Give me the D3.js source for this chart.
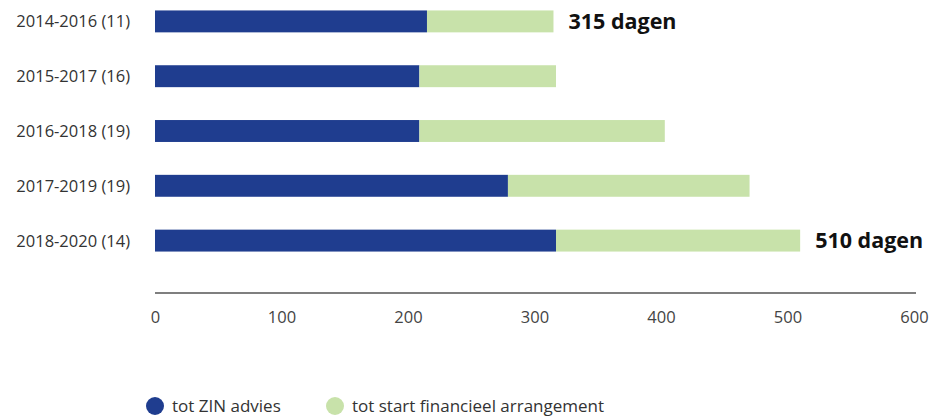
<!DOCTYPE html>
<html>
<head>
<meta charset="utf-8">
<script src="https://cdn.jsdelivr.net/npm/d3@7"></script>
<style>
  body { margin: 0; background: #fff; }
  text { font-family: "Open Sans", Lato, sans-serif; }
</style>
</head>
<body>
<svg id="chart" width="933" height="419"></svg>
<script>
// Periods (number of cases in brackets)
const categories = ["2014-2016 (11)", "2015-2017 (16)", "2016-2018 (19)", "2017-2019 (19)", "2018-2020 (14)"];
// Days until ZIN advice
const zinAdvies = [215, 209, 209, 279, 317];
// Additional days until start of financial arrangement
const startFinancieel = [100, 108, 194, 191, 193];
const seriesNames = ["tot ZIN advies", "tot start financieel arrangement"];
const xTicks = [0, 100, 200, 300, 400, 500, 600];
// Totals shown as annotation
const annotations = [{ cat: "2014-2016 (11)", text: "315 dagen" }, { cat: "2018-2020 (14)", text: "510 dagen" }];

const colors = ["#1f3d8f", "#c8e2aa"];

const svg = d3.select("#chart");

const x = d3.scaleLinear().domain([0, 600]).range([155, 914]);
const y = d3.scaleBand().domain(categories).range([-6, 268]).paddingInner(0.6).paddingOuter(0.3);

const rows = categories.map((c, i) => ({ cat: c, zin: zinAdvies[i], fin: startFinancieel[i] }));
const stack = d3.stack().keys(["zin", "fin"])(rows);

// Bars
svg.selectAll("g.layer")
  .data(stack)
  .enter().append("g")
  .attr("class", "layer")
  .attr("fill", (d, i) => colors[i])
  .selectAll("rect")
  .data(d => d)
  .enter().append("rect")
  .attr("x", d => x(d[0]))
  .attr("width", d => x(d[1]) - x(d[0]))
  .attr("y", d => y(d.data.cat))
  .attr("height", y.bandwidth());

// Category labels
svg.selectAll(".cat")
  .data(categories)
  .enter().append("text")
  .attr("class", "cat")
  .attr("x", 130)
  .attr("y", d => y(d) + y.bandwidth() / 2)
  .attr("dy", "0.36em")
  .attr("text-anchor", "end")
  .attr("font-size", 16.5)
  .attr("fill", "#333")
  .text(d => d);

// Annotations
svg.selectAll(".ann")
  .data(annotations)
  .enter().append("text")
  .attr("class", "ann")
  .attr("x", d => {
    const i = categories.indexOf(d.cat);
    return x(zinAdvies[i] + startFinancieel[i]) + 15;
  })
  .attr("y", d => y(d.cat) + y.bandwidth() / 2)
  .attr("dy", "0.36em")
  .attr("font-size", 21.5)
  .attr("font-weight", "bold")
  .attr("fill", "#111")
  .text(d => d.text);

// X axis
const axis = svg.append("g")
  .attr("transform", "translate(0,293)")
  .call(d3.axisBottom(x).tickValues(xTicks).tickSize(0).tickPadding(18));
axis.select(".domain").attr("stroke", "#555").attr("stroke-width", 1.5)
  .attr("d", `M${x(0)},0H916`);
axis.selectAll("text")
  .style("font-family", "'Open Sans', Lato, sans-serif")
  .style("font-size", "16.5px")
  .attr("fill", "#444");

// Legend
const legendX = [155, 335];
const legend = svg.selectAll(".legend")
  .data(seriesNames)
  .enter().append("g")
  .attr("class", "legend")
  .attr("transform", (d, i) => `translate(${legendX[i]},406)`);
legend.append("circle").attr("r", 9).attr("fill", (d, i) => colors[i]);
legend.append("text")
  .attr("x", 17)
  .attr("dy", "0.36em")
  .attr("font-size", 17)
  .attr("fill", "#333")
  .text(d => d);
</script>
</body>
</html>
